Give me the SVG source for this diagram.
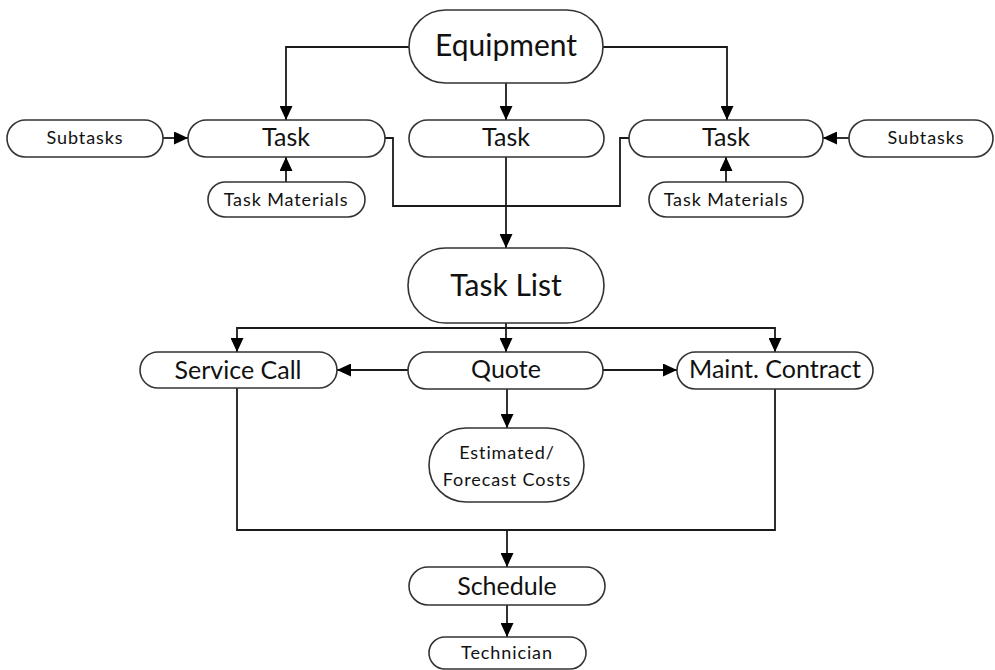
<svg xmlns="http://www.w3.org/2000/svg" width="995" height="670" viewBox="0 0 995 670">
<style>
.n{fill:#fff;stroke:#333;stroke-width:1.6}
.t{font-family:Lato,"Open Sans","Liberation Sans",sans-serif;fill:#111;text-anchor:middle}
.big{font-size:30px}
.mid{font-size:25px}
.sm{font-size:18px;letter-spacing:0.9px}
.c{fill:none;stroke:#1a1a1a;stroke-width:1.8}
</style>
<defs>
<marker id="a" viewBox="0 0 10 10" refX="10" refY="5" markerWidth="14" markerHeight="13" markerUnits="userSpaceOnUse" orient="auto" preserveAspectRatio="none">
<path d="M0,0 L10,5 L0,10 z" fill="#000"/>
</marker>
</defs>
<rect width="995" height="670" fill="#fff"/>
<g id="connectors">
<path class="c" d="M409,47 H286 V120" marker-end="url(#a)"/>
<path class="c" d="M506,83 V120" marker-end="url(#a)"/>
<path class="c" d="M603,47 H727 V120" marker-end="url(#a)"/>
<path class="c" d="M163,138 H188" marker-end="url(#a)"/>
<path class="c" d="M849,138 H823" marker-end="url(#a)"/>
<path class="c" d="M286,182 V157" marker-end="url(#a)"/>
<path class="c" d="M726,182 V157" marker-end="url(#a)"/>
<path class="c" d="M385,138 H393 V206 H620 V138 H629"/>
<path class="c" d="M506,157 V248" marker-end="url(#a)"/>
<path class="c" d="M506,323 V352" marker-end="url(#a)"/>
<path class="c" d="M506,328 H237 V352" marker-end="url(#a)"/>
<path class="c" d="M506,328 H775 V352" marker-end="url(#a)"/>
<path class="c" d="M408,370 H337" marker-end="url(#a)"/>
<path class="c" d="M603,370 H677" marker-end="url(#a)"/>
<path class="c" d="M507,389 V428" marker-end="url(#a)"/>
<path class="c" d="M237,388 V530 H775 V389"/>
<path class="c" d="M507,530 V567" marker-end="url(#a)"/>
<path class="c" d="M507,605 V637" marker-end="url(#a)"/>
</g>
<g id="equipment"><rect class="n" x="409" y="10" width="194" height="73" rx="36.5"/><text class="t big" x="506" y="56">Equipment</text></g>
<g id="task-left"><rect class="n" x="188" y="120" width="197" height="37" rx="18.5"/><text class="t mid" x="286" y="146">Task</text></g>
<g id="task-center"><rect class="n" x="409" y="120" width="195" height="37" rx="18.5"/><text class="t mid" x="506" y="146">Task</text></g>
<g id="task-right"><rect class="n" x="629" y="120" width="194" height="37" rx="18.5"/><text class="t mid" x="726" y="146">Task</text></g>
<g id="subtasks-left"><rect class="n" x="7" y="120" width="156" height="37" rx="18.5"/><text class="t sm" x="85" y="144">Subtasks</text></g>
<g id="subtasks-right"><rect class="n" x="849" y="120" width="144" height="37" rx="18.5"/><text class="t sm" x="926" y="144">Subtasks</text></g>
<g id="materials-left"><rect class="n" x="208" y="182" width="157" height="35" rx="17.5"/><text class="t sm" x="286" y="206">Task Materials</text></g>
<g id="materials-right"><rect class="n" x="649" y="182" width="154" height="35" rx="17.5"/><text class="t sm" x="726" y="206">Task Materials</text></g>
<g id="task-list"><rect class="n" x="408" y="248" width="196" height="75" rx="37.5"/><text class="t big" x="506" y="296">Task List</text></g>
<g id="service-call"><rect class="n" x="140" y="352" width="197" height="36" rx="18"/><text class="t mid" x="238" y="379">Service Call</text></g>
<g id="quote"><rect class="n" x="408" y="352" width="195" height="37" rx="18.5"/><text class="t mid" x="506" y="378">Quote</text></g>
<g id="maint-contract"><rect class="n" x="677" y="352" width="196" height="37" rx="18.5"/><text class="t mid" x="775" y="378">Maint. Contract</text></g>
<g id="estimated"><rect class="n" x="429" y="428" width="155" height="74" rx="37"/><text class="t sm" x="507" y="459">Estimated/</text><text class="t sm" x="507" y="486">Forecast Costs</text></g>
<g id="schedule"><rect class="n" x="409" y="567" width="196" height="38" rx="19"/><text class="t mid" x="507" y="595">Schedule</text></g>
<g id="technician"><rect class="n" x="429" y="637" width="157" height="32" rx="16"/><text class="t sm" x="507" y="659">Technician</text></g>
</svg>
